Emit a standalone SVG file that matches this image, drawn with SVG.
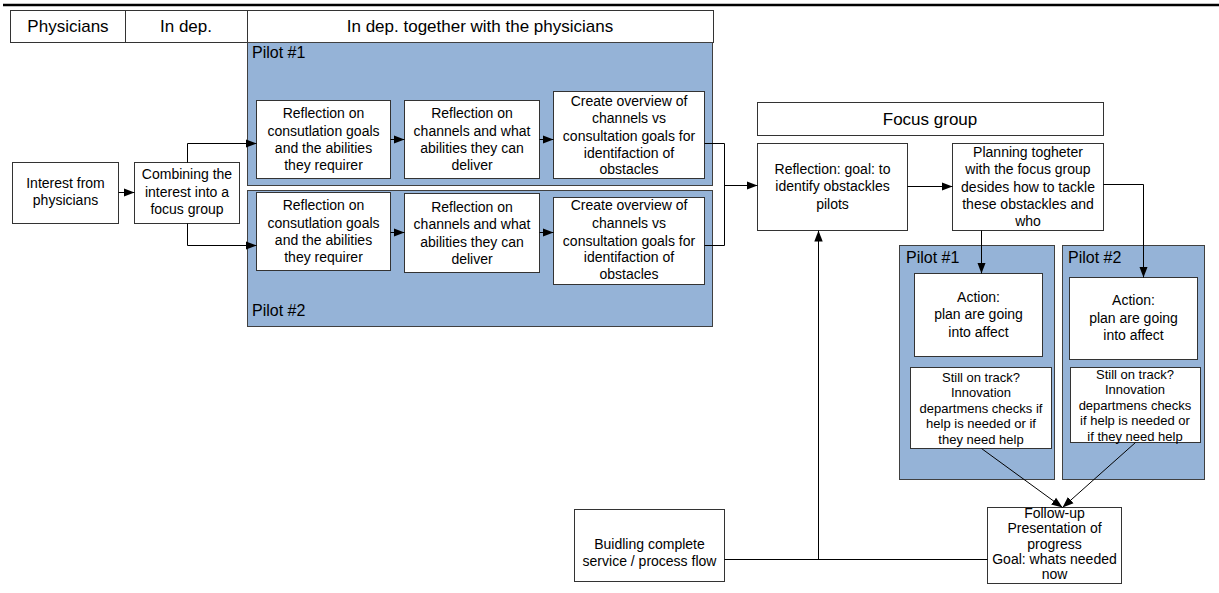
<svg xmlns="http://www.w3.org/2000/svg" width="1219" height="593" viewBox="0 0 1219 593">
<style>
text{font-family:"Liberation Sans",Arial,sans-serif;fill:#000;}
.t{font-size:14px;text-anchor:middle;}
.s{font-size:13px;text-anchor:middle;}
.h{font-size:17px;text-anchor:middle;}
.p{font-size:16px;}
.box{fill:#fff;stroke:#333;stroke-width:1;}
.pool{fill:#95B3D7;stroke:#404040;stroke-width:1;}
.c{fill:none;stroke:#000;stroke-width:1;}
.a{marker-end:url(#ah);}
</style>
<defs>
<marker id="ah" markerUnits="userSpaceOnUse" markerWidth="12" markerHeight="10" refX="11" refY="5" orient="auto">
<path d="M0,0.8 L11,5 L0,9.2 z" fill="#000"/>
</marker>
</defs>
<rect width="1219" height="593" fill="#fff"/>
<line x1="3" y1="5" x2="1219" y2="5" stroke="#000" stroke-width="2.5"/>

<g id="header">
<rect class="box" x="10.5" y="10.5" width="703" height="32"/>
<line x1="125.5" y1="10.5" x2="125.5" y2="42.5" stroke="#333"/>
<line x1="247.5" y1="10.5" x2="247.5" y2="42.5" stroke="#333"/>
<text class="h" x="68" y="32">Physicians</text>
<text class="h" x="186" y="32">In dep.</text>
<text class="h" x="480" y="32">In dep. together with the physicians</text>
</g>

<g id="pilot1-pool">
<rect class="pool" x="247.5" y="42.5" width="465" height="143"/>
<text class="p" x="252" y="58">Pilot #1</text>
</g>
<g id="pilot2-pool">
<rect class="pool" x="247.5" y="190.5" width="465" height="136"/>
<text class="p" x="252" y="316">Pilot #2</text>
</g>

<g id="interest">
<rect class="box" x="12.5" y="162.5" width="106" height="61"/>
<text class="t" x="65.5"><tspan x="65.5" y="188">Interest from</tspan><tspan x="65.5" y="205">physicians</tspan></text>
</g>
<g id="combining">
<rect class="box" x="134.5" y="162.5" width="105" height="61"/>
<text class="t"><tspan x="187" y="179">Combining the</tspan><tspan x="187" y="197">interest into a</tspan><tspan x="187" y="214">focus group</tspan></text>
</g>

<g id="p1-a">
<rect class="box" x="256.5" y="100.5" width="134" height="78"/>
<text class="t"><tspan x="323.5" y="118">Reflection on</tspan><tspan x="323.5" y="136">consutlation goals</tspan><tspan x="323.5" y="153">and the abilities</tspan><tspan x="323.5" y="170">they requirer</tspan></text>
</g>
<g id="p1-b">
<rect class="box" x="404.5" y="100.5" width="135" height="78"/>
<text class="t"><tspan x="472" y="118">Reflection on</tspan><tspan x="472" y="136">channels and what</tspan><tspan x="472" y="153">abilities they can</tspan><tspan x="472" y="170">deliver</tspan></text>
</g>
<g id="p1-c">
<rect class="box" x="553.5" y="91.5" width="151" height="87"/>
<text class="t"><tspan x="629" y="106">Create overview of</tspan><tspan x="629" y="123">channels vs</tspan><tspan x="629" y="141">consultation goals for</tspan><tspan x="629" y="158">identifaction of</tspan><tspan x="629" y="174">obstacles</tspan></text>
</g>

<g id="p2-a">
<rect class="box" x="256.5" y="192.5" width="134" height="78"/>
<text class="t"><tspan x="323.5" y="210">Reflection on</tspan><tspan x="323.5" y="228">consutlation goals</tspan><tspan x="323.5" y="245">and the abilities</tspan><tspan x="323.5" y="262">they requirer</tspan></text>
</g>
<g id="p2-b">
<rect class="box" x="404.5" y="193.5" width="135" height="79"/>
<text class="t"><tspan x="472" y="212">Reflection on</tspan><tspan x="472" y="229">channels and what</tspan><tspan x="472" y="247">abilities they can</tspan><tspan x="472" y="264">deliver</tspan></text>
</g>
<g id="p2-c">
<rect class="box" x="553.5" y="197.5" width="151" height="87"/>
<text class="t"><tspan x="629" y="210">Create overview of</tspan><tspan x="629" y="228">channels vs</tspan><tspan x="629" y="246">consultation goals for</tspan><tspan x="629" y="262">identifaction of</tspan><tspan x="629" y="279">obstacles</tspan></text>
</g>

<g id="focus-group">
<rect class="box" x="757.5" y="102.5" width="346" height="33"/>
<text class="h" x="930" y="125">Focus group</text>
</g>
<g id="reflection">
<rect class="box" x="757.5" y="143.5" width="150" height="87"/>
<text class="t"><tspan x="832.5" y="174">Reflection: goal: to</tspan><tspan x="832.5" y="191">identify obstackles</tspan><tspan x="832.5" y="209">pilots</tspan></text>
</g>
<g id="planning">
<rect class="box" x="952.5" y="143.5" width="151" height="87"/>
<text class="t"><tspan x="1028" y="157">Planning togheter</tspan><tspan x="1028" y="174">with the focus group</tspan><tspan x="1028" y="192">desides how to tackle</tspan><tspan x="1028" y="209">these obstackles and</tspan><tspan x="1028" y="226">who</tspan></text>
</g>

<g id="r-pilot1">
<rect class="pool" x="899.5" y="245.5" width="155" height="234"/>
<text class="p" x="906" y="263">Pilot #1</text>
</g>
<g id="r-pilot2">
<rect class="pool" x="1062.5" y="245.5" width="142" height="234"/>
<text class="p" x="1068" y="263">Pilot #2</text>
</g>
<g id="action1">
<rect class="box" x="914.5" y="273.5" width="128" height="83"/>
<text class="t"><tspan x="978.5" y="302">Action:</tspan><tspan x="978.5" y="319">plan are going</tspan><tspan x="978.5" y="337">into affect</tspan></text>
</g>
<g id="action2">
<rect class="box" x="1069.5" y="277.5" width="128" height="82"/>
<text class="t"><tspan x="1133.5" y="305">Action:</tspan><tspan x="1133.5" y="323">plan are going</tspan><tspan x="1133.5" y="340">into affect</tspan></text>
</g>
<g id="check1">
<rect class="box" x="910.5" y="367.5" width="141" height="81"/>
<text class="s"><tspan x="981" y="382">Still on track?</tspan><tspan x="981" y="397">Innovation</tspan><tspan x="981" y="413">departmens checks if</tspan><tspan x="981" y="428">help is needed or if</tspan><tspan x="981" y="444">they need help</tspan></text>
</g>
<g id="check2">
<rect class="box" x="1070.5" y="367.5" width="130" height="75"/>
<text class="s"><tspan x="1135" y="379">Still on track?</tspan><tspan x="1135" y="394">Innovation</tspan><tspan x="1135" y="410">departmens checks</tspan><tspan x="1135" y="425">if help is needed or</tspan><tspan x="1135" y="441">if they need help</tspan></text>
</g>

<g id="building">
<rect class="box" x="574.5" y="509.5" width="150" height="72"/>
<text class="t"><tspan x="649.5" y="549">Buidling complete</tspan><tspan x="649.5" y="566">service / process flow</tspan></text>
</g>
<g id="followup">
<rect class="box" x="987.5" y="507.5" width="134" height="76"/>
<text class="t"><tspan x="1054.5" y="518">Follow-up</tspan><tspan x="1054.5" y="533">Presentation of</tspan><tspan x="1054.5" y="549">progress</tspan><tspan x="1054.5" y="564">Goal: whats needed</tspan><tspan x="1054.5" y="579">now</tspan></text>
</g>

<g id="connectors">
<path class="c a" d="M118.5,192.5 H134.5"/>
<path class="c a" d="M187.5,162.5 V143.5 H256.5"/>
<path class="c a" d="M187.5,223.5 V245.5 H256.5"/>
<path class="c a" d="M390.5,139.5 H404.5"/>
<path class="c a" d="M539.5,139.5 H553.5"/>
<path class="c a" d="M390.5,232.5 H404.5"/>
<path class="c a" d="M539.5,232.5 H553.5"/>
<path class="c" d="M704.5,143.5 H724.5 V245.5 H704.5"/>
<path class="c a" d="M724.5,185.5 H757.5"/>
<path class="c a" d="M907.5,186.5 H952.5"/>
<path class="c a" d="M981.5,230.5 V273.5"/>
<path class="c a" d="M1103.5,184.5 H1143.5 V277.5"/>
<path class="c a" d="M981.5,448.5 L1062.5,507.5"/>
<path class="c a" d="M1135.5,442.5 L1062.5,507.5"/>
<path class="c" d="M724.5,559.5 H987.5"/>
<path class="c a" d="M818.5,559.5 V230.5"/>
</g>
</svg>
